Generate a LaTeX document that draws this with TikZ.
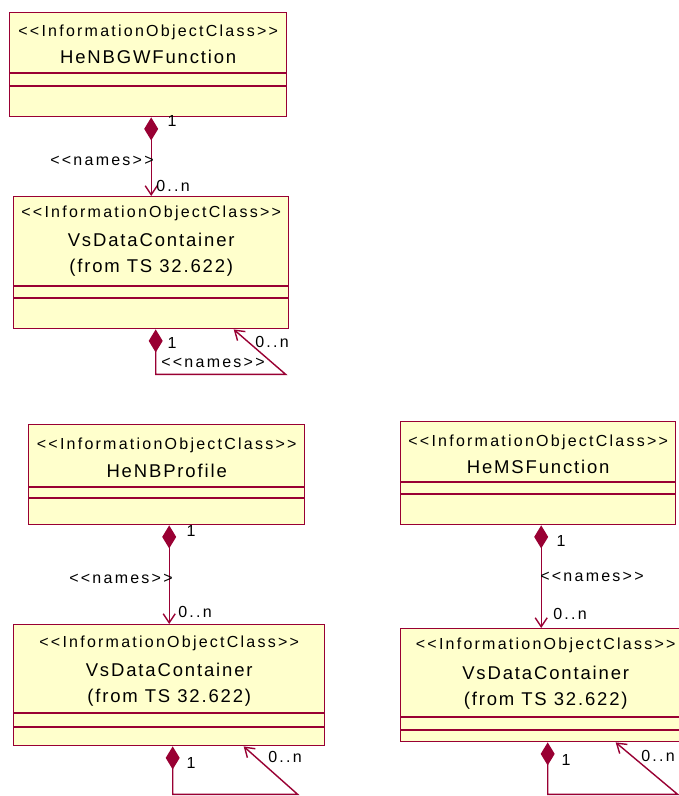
\documentclass[tikz,border=0pt]{standalone}
\usepackage{fontspec}
\setmainfont{Liberation Sans}
\newfontfamily\stfont[LetterSpace=14]{Liberation Sans}
\newfontfamily\nmfont[LetterSpace=10]{Liberation Sans}
\usetikzlibrary{arrows.meta,positioning}
\definecolor{umlred}{RGB}{153,0,51}
\definecolor{umlfill}{RGB}{255,255,204}
\newcommand{\stereoioc}{{<}{<}InformationObjectClass{>}{>}}

\begin{document}
\begin{tikzpicture}[x=1pt,y=-1pt,
		cls/.style={draw=umlred,fill=umlfill,line width=1.4pt,inner sep=0pt,anchor=north west},
		sep/.style={draw=umlred,line width=1.4pt},
		stereo/.style={font=\stfont\fontsize{16}{18}\selectfont,inner sep=0pt},
		cname/.style={font=\nmfont\fontsize{18.5}{26}\selectfont,inner sep=0pt,align=center},
		lbl/.style={font=\stfont\fontsize{16}{18}\selectfont,inner sep=0pt},
		comp/.style={draw=umlred,line width=1.4pt,{Diamond[length=23pt,width=14pt,fill=umlred]}-{Straight Barb[length=9pt,width=12pt]}}]

	\useasboundingbox (0,0) rectangle (679,796);
	\clip (0,0) rectangle (679,796);
	\fill[white] (0,0) rectangle (679,796);

	% HeNBGWFunction
	\node[cls,minimum width=277,minimum height=104] (gw) at (9,12) {};
	\node[stereo] (gwst) at ([yshift=-20]gw.north) {\stereoioc};
	\node[cname] (gwnm) at ([yshift=-45]gw.north) {HeNBGWFunction};
	\draw[sep] ([yshift=-61]gw.north west) -- ([yshift=-61]gw.north east);
	\draw[sep] ([yshift=-74]gw.north west) -- ([yshift=-74]gw.north east);

	\node[cls,minimum width=275,minimum height=132] (vc1) at (13,196) {};
	\node[stereo] (vc1st) at ([yshift=-17]vc1.north) {\stereoioc};
	\node[cname] (vc1nm) at ([yshift=-59]vc1.north) {VsDataContainer\\(from TS 32.622)};
	\draw[sep] ([yshift=-90]vc1.north west) -- ([yshift=-90]vc1.north east);
	\draw[sep] ([yshift=-102]vc1.north west) -- ([yshift=-102]vc1.north east);

	\draw[comp] (vc1.north |- gw.south) -- (vc1.north);
	\node[lbl] (gw1) at (172,121) {1};
	\node[lbl] (gwnames) at (102,161) {{<}{<}names{>}{>}};
	\node[lbl] (gw0n) at (173,186) {0..n};

	\draw[comp] ([xshift=4.5]vc1.south) -- ++(0,45) -- ++(130,0) -- ([xshift=82.5]vc1.south);
	\node[lbl] (vc11) at (172,343) {1};
	\node[lbl] (vc10n) at (272,342) {0..n};
	\node[lbl] (vc1names) at (213,363) {{<}{<}names{>}{>}};

	% HeNBProfile
	\node[cls,minimum width=276,minimum height=100] (prof) at (28,424) {};
	\node[stereo] (profst) at ([yshift=-21]prof.north) {\stereoioc};
	\node[cname] (profnm) at ([yshift=-47]prof.north) {HeNBProfile};
	\draw[sep] ([yshift=-63]prof.north west) -- ([yshift=-63]prof.north east);
	\draw[sep] ([yshift=-74]prof.north west) -- ([yshift=-74]prof.north east);

	\node[cls,minimum width=311,minimum height=121] (vc2) at (13,624) {};
	\node[stereo] (vc2st) at ([yshift=-19]vc2.north) {\stereoioc};
	\node[cname] (vc2nm) at ([yshift=-61]vc2.north) {VsDataContainer\\(from TS 32.622)};
	\draw[sep] ([yshift=-89]vc2.north west) -- ([yshift=-89]vc2.north east);
	\draw[sep] ([yshift=-103]vc2.north west) -- ([yshift=-103]vc2.north east);

	\draw[comp] (vc2.north |- prof.south) -- (vc2.north);
	\node[lbl] (prof1) at (191,531) {1};
	\node[lbl] (profnames) at (121,579) {{<}{<}names{>}{>}};
	\node[lbl] (prof0n) at (195,612) {0..n};

	\draw[comp] ([xshift=3.5]vc2.south) -- ++(0,48) -- ++(125,0) -- ([xshift=74.5]vc2.south);
	\node[lbl] (vc21) at (191,763) {1};
	\node[lbl] (vc20n) at (285,757) {0..n};

	% HeMSFunction
	\node[cls,minimum width=275,minimum height=103] (ms) at (400,421) {};
	\node[stereo] (msst) at ([yshift=-21]ms.north) {\stereoioc};
	\node[cname] (msnm) at ([yshift=-46]ms.north) {HeMSFunction};
	\draw[sep] ([yshift=-61]ms.north west) -- ([yshift=-61]ms.north east);
	\draw[sep] ([yshift=-73]ms.north west) -- ([yshift=-73]ms.north east);

	\node[cls,minimum width=290,minimum height=113] (vc3) at (400,628) {};
	\node[stereo] (vc3st) at ([yshift=-17]vc3.north) {\stereoioc};
	\node[cname] (vc3nm) at ([yshift=-59.5]vc3.north) {VsDataContainer\\(from TS 32.622)};
	\draw[sep] ([yshift=-89]vc3.north west) -- ([yshift=-89]vc3.north east);
	\draw[sep] ([yshift=-102]vc3.north west) -- ([yshift=-102]vc3.north east);

	\draw[comp] ([xshift=3]ms.south) -- ([xshift=3]ms.south |- vc3.north);
	\node[lbl] (ms1) at (561,541) {1};
	\node[lbl] (msnames) at (592,577) {{<}{<}names{>}{>}};
	\node[lbl] (ms0n) at (570,614) {0..n};

	\draw[comp] ([xshift=2]vc3.south) -- ++(0,52) -- ++(130,0) -- ([xshift=70]vc3.south);
	\node[lbl] (vc31) at (566,760) {1};
	\node[lbl] (vc30n) at (658,756) {0..n};

\end{tikzpicture}
\end{document}
